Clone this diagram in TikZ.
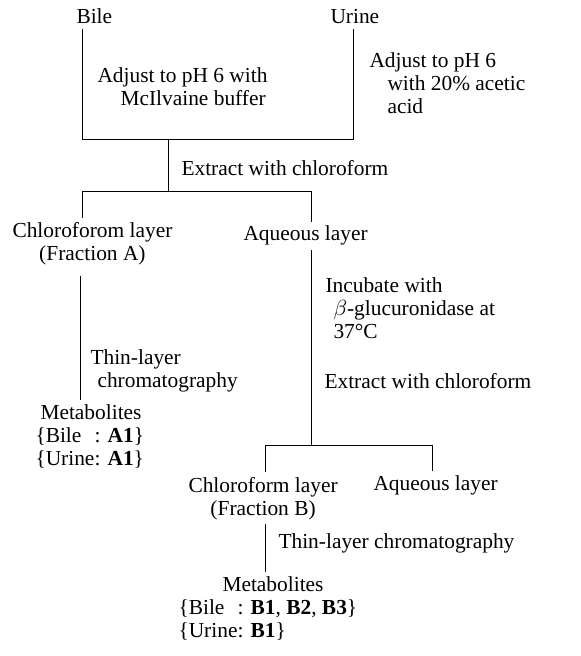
\documentclass[tikz,border=0pt]{standalone}
\usepackage{fontspec}
\setmainfont{Liberation Serif}
\usetikzlibrary{positioning}
\begin{document}
\begin{tikzpicture}[x=0.5pt, y=-0.5pt, line width=0.5pt,
    lbl/.style={inner sep=2pt, anchor=base west, align=left, font=\fontsize{10.7pt}{11.5pt}\selectfont},
    layer/.style={lbl, align=center}]
    \useasboundingbox (0,0) rectangle (581,656);

    % Samples
    \node[lbl] (bile) at (72,24) {Bile};
    \node[lbl] (urine) at (326,24) {Urine};
    \node[lbl] (adjbile) at (93,106) {Adjust to pH 6 with\\\hspace*{11.5pt}McIlvaine buffer};
    \node[lbl] (adjurine) at (365,114) {Adjust to pH 6\\\hspace*{9pt}with 20\% acetic\\\hspace*{9pt}acid};
    \coordinate (jtopL) at (82,140);
    \coordinate (jtop) at (168,140);
    \coordinate (jtopR) at (353,140);
    \draw (jtopL |- bile.south) -- (jtopL) -- (jtopR) -- (jtopR |- urine.south);

    % First extraction
    \node[lbl] (extract1) at (177,176) {Extract with chloroform};
    \coordinate (jsplitL) at (82,192);
    \coordinate (jsplit) at (168,192);
    \coordinate (jsplitR) at (311,192);
    \draw (jtop) -- (jsplit);
    \node[layer] (chlA) at (8,261) {Chloroforom layer\\(Fraction A)};
    \node[lbl] (aqA) at (239,241) {Aqueous layer};
    \draw (jsplitL |- chlA.north) -- (jsplitL) -- (jsplitR) -- (jsplitR |- aqA.north);

    % Fraction A
    \coordinate (xA) at (80,0);
    \node[lbl] (tlcA) at (86,387) {Thin-layer\\\hspace*{3.5pt}chromatography};
    \node[lbl] (metA) at (31,465) {\hspace*{2.5pt}Metabolites\\\{\makebox[2.28em][l]{Bile}: \textbf{A1}\}\\\{Urine: \textbf{A1}\}};
    \draw ([yshift=-3pt]xA |- chlA.south) -- (xA |- metA.north);

    % Aqueous layer
    \node[lbl] (incub) at (321,339) {Incubate with\\\hspace*{4pt}$\beta$-glucuronidase at\\\hspace*{4pt}37°C};
    \node[lbl] (extract2) at (320,388) {Extract with chloroform};
    \coordinate (jB) at (311,445);
    \coordinate (jBL) at (265,445);
    \coordinate (jBR) at (432,445);
    \draw (jB |- aqA.south) -- (jB);
    \node[layer] (chlB) at (184,515) {Chloroform layer\\(Fraction B)};
    \node[lbl] (aqB) at (369,490) {Aqueous layer};
    \draw (jBL |- chlB.north) -- (jBL) -- (jBR) -- (jBR |- aqB.north);

    % Fraction B
    \node[lbl] (tlcB) at (274,548) {Thin-layer chromatography};
    \node[lbl] (metB) at (174,637) {\hspace*{22pt}Metabolites\\\{\makebox[2.28em][l]{Bile}: \textbf{B1}, \textbf{B2}, \textbf{B3}\}\\\{Urine: \textbf{B1}\}};
    \draw (jBL |- chlB.south) -- (jBL |- metB.north);
\end{tikzpicture}
\end{document}
